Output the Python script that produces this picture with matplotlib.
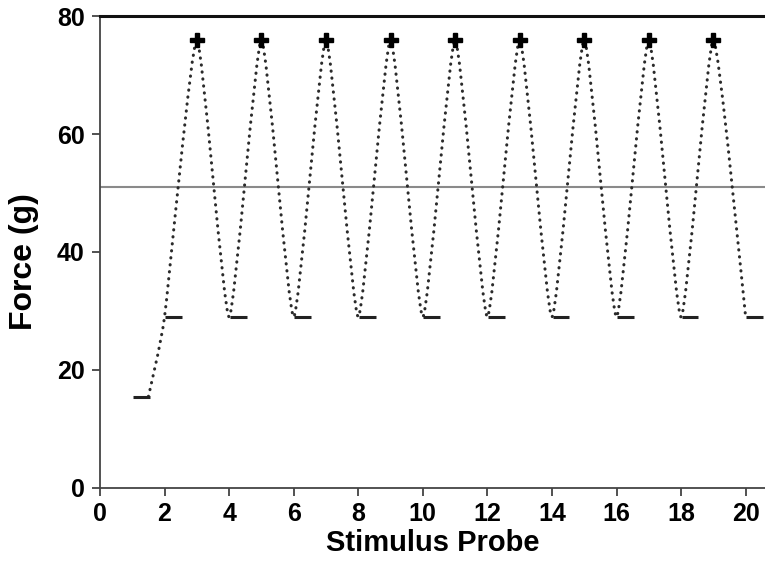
import matplotlib.pyplot as plt
from matplotlib.path import Path
from matplotlib.patches import PathPatch

plt.rcParams['font.family'] = ['Liberation Sans', 'DejaVu Sans']
plt.rcParams['font.weight'] = 'bold'

# probe responses (short horizontal bars)
probe_x = [1, 2, 4, 6, 8, 10, 12, 14, 16, 18, 20]
probe_force = [15.5, 29, 29, 29, 29, 29, 29, 29, 29, 29, 29]

# peak stimuli (plus markers)
peak_x = [3, 5, 7, 9, 11, 13, 15, 17, 19]
peak_force = [76, 76, 76, 76, 76, 76, 76, 76, 76]

# points the dotted trace runs through
trace_x = [1.5, 2, 3, 4, 5, 6, 7, 8, 9, 10, 11, 12, 13, 14, 15, 16, 17, 18, 19, 20]
trace_y = [15.5, 29, 76, 29, 76, 29, 76, 29, 76, 29, 76, 29, 76, 29, 76, 29, 76, 29, 76, 29]

threshold = 51

xticks = list(range(0, 21, 2))
yticks = [0, 20, 40, 60, 80]


def cardinal_path(xs, ys, c=0.5):
    # cubic bezier segments through the points, drawn by matplotlib
    pts = list(zip(xs, ys))
    n = len(pts)
    tans = []
    for i in range(n):
        a = pts[max(i - 1, 0)]
        b = pts[min(i + 1, n - 1)]
        tans.append(((1 - c) * (b[0] - a[0]) / 2, (1 - c) * (b[1] - a[1]) / 2))
    verts = [pts[0]]
    codes = [Path.MOVETO]
    for i in range(n - 1):
        p0, p1 = pts[i], pts[i + 1]
        t0, t1 = tans[i], tans[i + 1]
        verts += [(p0[0] + t0[0] / 3, p0[1] + t0[1] / 3),
                  (p1[0] - t1[0] / 3, p1[1] - t1[1] / 3),
                  p1]
        codes += [Path.CURVE4] * 3
    return Path(verts, codes)


fig = plt.figure(figsize=(7.65, 5.64), dpi=100)
ax = fig.add_axes([0.1307, 0.1348, 0.8693, 0.8368])

ax.axhline(threshold, color='#8a8a8a', lw=1.5, zorder=1)

trace = PathPatch(cardinal_path(trace_x, trace_y), fill=False, edgecolor='#2a2a2a',
                  lw=2.2, linestyle=(0, (0.1, 2.2)), capstyle='round', zorder=2)
ax.add_patch(trace)

ax.hlines(probe_force, [x + 0.02 for x in probe_x], [x + 0.54 for x in probe_x],
          color='#222222', lw=2.2, zorder=3)
ax.plot(peak_x, peak_force, linestyle='none', marker='P', color='black',
        markersize=10, zorder=4)

ax.set_xlim(0, 20.6)
ax.set_ylim(0, 80)
ax.set_xticks(xticks)
ax.set_yticks(yticks)
ax.tick_params(labelsize=18, direction='out', length=6, width=1.2, colors='#333333',
               labelcolor='black', pad=5)
ax.tick_params(axis='x', pad=4)
ax.spines['right'].set_visible(False)
ax.spines['top'].set_linewidth(2.2)
ax.spines['top'].set_color('#111111')
for s in ['left', 'bottom']:
    ax.spines[s].set_linewidth(1.3)
    ax.spines[s].set_color('#444444')

ax.set_xlabel('Stimulus Probe', fontsize=21, fontweight='bold', labelpad=2)
ax.set_ylabel('Force (g)', fontsize=23, fontweight='bold')
ax.yaxis.set_label_coords(-0.092, 0.479)

fig.savefig('out.png', dpi=100)
